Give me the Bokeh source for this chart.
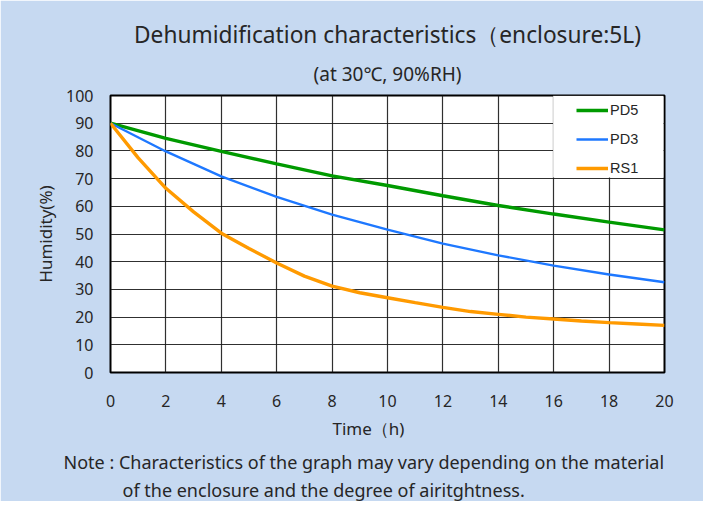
from bokeh.plotting import figure
from bokeh.models import (Range1d, FixedTicker, Title, BoxAnnotation, Legend, LegendItem)
from bokeh.embed import file_html
from bokeh.resources import INLINE

# ---- data ----
hours = [0, 2, 4, 6, 8, 10, 12, 14, 16, 18, 20]
pd5 = [90, 84.5, 79.8, 75.3, 71.0, 67.5, 63.8, 60.3, 57.2, 54.3, 51.5]
pd3 = [90, 79.8, 70.8, 63.4, 57.0, 51.6, 46.5, 42.3, 38.6, 35.4, 32.6]
rs1_hours = [0, 1, 2, 3, 4, 5, 6, 7, 8, 9, 10, 11, 12, 13, 14, 15, 16, 17, 18, 19, 20]
rs1 = [90, 77.5, 66.5, 58.0, 50.3, 44.8, 39.5, 34.8, 31.2, 28.8, 27.0, 25.2, 23.5,
       22.0, 21.0, 20.0, 19.3, 18.6, 18.0, 17.5, 17.0]
x_ticks = [0, 2, 4, 6, 8, 10, 12, 14, 16, 18, 20]
y_ticks = [0, 10, 20, 30, 40, 50, 60, 70, 80, 90, 100]
series_names = ["PD5", "PD3", "RS1"]
series_colors = ["#009A00", "#1E78FF", "#FF9A00"]

title_text = "Dehumidification characteristics（enclosure:5L)"
subtitle_text = "(at 30℃, 90%RH)"
xlabel = "Time（h)"
ylabel = "Humidity(%)"
note1 = "Note : Characteristics of the graph may vary depending on the material"
note2 = "of the enclosure and the degree of airitghtness."

FONT = "Noto Sans"
TXT = "#262626"
BG = "#C6D9F1"

def mk_title(text, size, align="center", offset=0, standoff=0):
    return Title(text=text, text_font=FONT, text_font_size=size, text_font_style="normal",
                 text_color=TXT, align=align, offset=offset, standoff=standoff)

p = figure(width=703, height=501, output_backend="svg", toolbar_location=None,
           x_range=Range1d(0, 20), y_range=Range1d(0, 100),
           title=title_text,
           min_border_left=110, min_border_right=39, min_border_top=95, min_border_bottom=128)
p.background_fill_color = "white"
p.border_fill_color = BG
p.outline_line_color = "black"
p.outline_line_width = 2

# main title (outer) and subtitle (inner, closest to the frame)
p.title.text_font = FONT
p.title.text_font_size = "22.7px"
p.title.text_font_style = "normal"
p.title.text_color = TXT
p.title.align = "center"
p.title.standoff = 0
p.add_layout(mk_title(subtitle_text, "19px", standoff=18), "above")

for ax in (p.xaxis[0], p.yaxis[0]):
    ax.axis_line_color = None
    ax.major_tick_line_color = None
    ax.minor_tick_line_color = None
    ax.major_tick_in = 0
    ax.major_tick_out = 0
    ax.minor_tick_in = 0
    ax.minor_tick_out = 0
    ax.major_label_text_font = FONT
    ax.major_label_text_font_size = "16px"
    ax.major_label_text_color = TXT
    ax.axis_label_text_font = FONT
    ax.axis_label_text_font_size = "17px"
    ax.axis_label_text_font_style = "normal"
    ax.axis_label_text_color = TXT
p.xaxis[0].ticker = FixedTicker(ticks=x_ticks)
p.yaxis[0].ticker = FixedTicker(ticks=y_ticks)
p.xaxis[0].major_label_standoff = 22
p.yaxis[0].major_label_standoff = 17
p.yaxis[0].axis_label = ylabel
p.yaxis[0].axis_label_standoff = 6

# x-axis title and notes below
p.add_layout(mk_title(xlabel, "17px", align="left", offset=222, standoff=11), "below")
p.add_layout(mk_title(note1, "18px", align="left", offset=-47, standoff=4), "below")
p.add_layout(mk_title(note2, "18px", align="left", offset=12, standoff=0), "below")

p.xgrid[0].ticker = FixedTicker(ticks=x_ticks)
p.ygrid[0].ticker = FixedTicker(ticks=y_ticks)
for g in (p.xgrid[0], p.ygrid[0]):
    g.grid_line_color = "#1a1a1a"
    g.grid_line_width = 1.2
    g.grid_line_alpha = 0.9

r5 = p.line(hours, pd5, line_color=series_colors[0], line_width=3.4)
r3 = p.line(hours, pd3, line_color=series_colors[1], line_width=2.4)
r1 = p.line(rs1_hours, rs1, line_color=series_colors[2], line_width=3.4)

box = BoxAnnotation(left=15.98, right=19.96, bottom=70.4, top=99.95,
                    fill_color="white", fill_alpha=1.0, line_color=None)
p.add_layout(box)

legend = Legend(items=[LegendItem(label=series_names[0], renderers=[r5]),
                       LegendItem(label=series_names[1], renderers=[r3]),
                       LegendItem(label=series_names[2], renderers=[r1])],
                location="top_right", margin=5, padding=4, spacing=9,
                glyph_width=32, glyph_height=20, label_height=20, label_width=49,
                label_standoff=2, background_fill_alpha=0, border_line_color=None,
                label_text_font="Liberation Sans", label_text_font_size="14.5px",
                label_text_color=TXT)
p.add_layout(legend)

open("out.html", "w").write(file_html(p, INLINE))
